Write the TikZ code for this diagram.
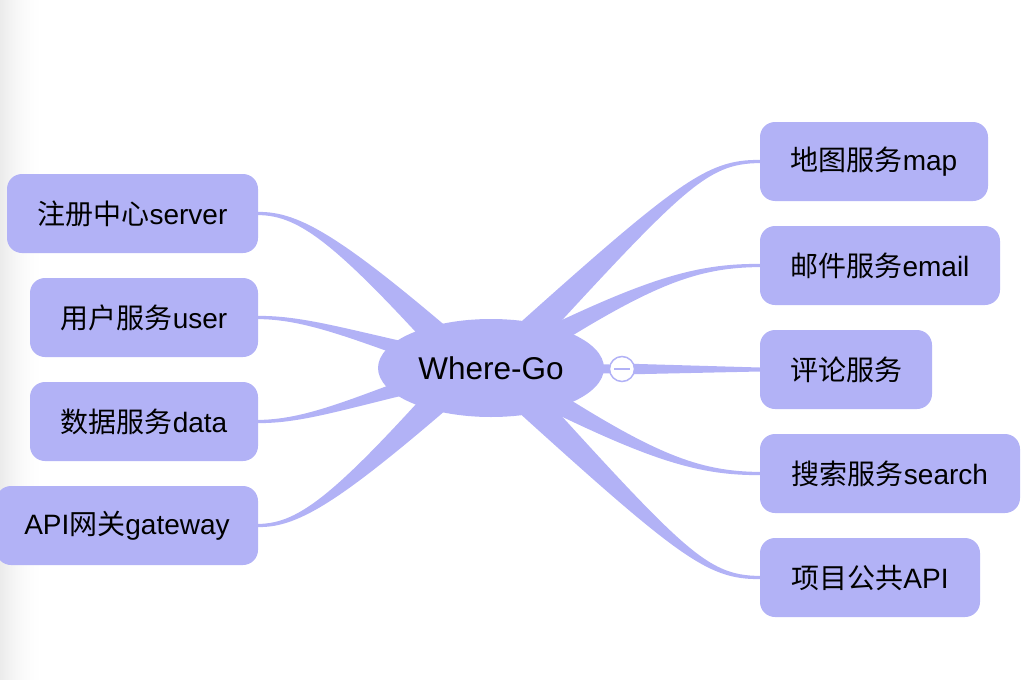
\documentclass[tikz,border=0pt]{standalone}
\usepackage{fontspec}
\setmainfont{Liberation Sans}
\newfontfamily\cjk{Noto Sans CJK SC}
\usetikzlibrary{shapes.geometric,calc,backgrounds}
\definecolor{lav}{RGB}{178,178,246}
\newcommand\mmbranch[8]{%
  \fill[lav] ($#1!#5!90:#2$) .. controls ($#2!#6!-90:#1$) and ($#3!#7!90:#4$) .. ($#4!#8!-90:#3$)
    -- ($#4!#8!90:#3$) .. controls ($#3!#7!-90:#4$) and ($#2!#6!90:#1$) .. ($#1!#5!-90:#2$) -- cycle;}
\tikzset{
  box/.style={draw=none, fill=lav, rounded corners=15pt, minimum height=79pt, inner sep=0pt,
    font=\fontsize{28}{33}\selectfont, text=black},
  topic/.style={ellipse, fill=lav, minimum width=226pt, minimum height=98pt, inner sep=0pt,
    font=\fontsize{31.5}{37}\selectfont, text=black},
  collapse/.style={circle, draw=lav, line width=1.5pt, fill=white, minimum size=25pt, inner sep=0pt}
}
\begin{document}
\begin{tikzpicture}[x=1pt,y=-1pt]
\useasboundingbox (0,0) rectangle (1022,680);
% nodes
\node[topic] (c) at (491,368) {Where-Go};
\node[collapse] (col) at (622,369) {};
\draw[lav, line width=1.5pt] ([xshift=-8pt]col.center) -- ([xshift=8pt]col.center);

\node[box, minimum width=251pt] (server) at (132.5,213.5) {{\cjk 注册中心}server};
\node[box, minimum width=228pt] (user) at (144,317.5) {{\cjk 用户服务}user};
\node[box, minimum width=228pt] (data) at (144,421.5) {{\cjk 数据服务}data};
\node[box, minimum width=262pt] (gateway) at (127,525.5) {API{\cjk 网关}gateway};

\node[box, minimum width=228pt] (map) at (874,161.5) {{\cjk 地图服务}map};
\node[box, minimum width=240pt] (email) at (880,265.5) {{\cjk 邮件服务}email};
\node[box, minimum width=172pt] (review) at (846,369.5) {{\cjk 评论服务}};
\node[box, minimum width=260pt] (search) at (890,473.5) {{\cjk 搜索服务}search};
\node[box, minimum width=220pt] (api) at (870,577.5) {{\cjk 项目公共}API};

\coordinate (sl) at (470,368);
\coordinate (sr) at (495,368);

\begin{pgfonlayer}{background}
\foreach \i in {0,...,44}{
  \pgfmathsetmacro\g{8*(1-\i/45)*(1-\i/45)}
  \fill[black!\g] (\i,0) rectangle (\i+1.05,680);
}
% right branches
\mmbranch{(sr)}{(680,185)}{(705,161.5)}{(map.west)}{17pt}{4.5pt}{2pt}{1.6pt}
\mmbranch{(sr)}{(640,285)}{(690,265.5)}{(email.west)}{14pt}{4.5pt}{2pt}{1.6pt}
\mmbranch{(sr)}{(640,452)}{(690,473.5)}{(search.west)}{14pt}{4.5pt}{2pt}{1.6pt}
\mmbranch{(sr)}{(680,553)}{(705,577.5)}{(api.west)}{17pt}{4.5pt}{2pt}{1.6pt}
% left branches
\mmbranch{(sl)}{(340,240)}{(300,213.5)}{(server.east)}{16pt}{4.5pt}{2pt}{1.6pt}
\mmbranch{(sl)}{(360,338)}{(310,317.5)}{(user.east)}{12pt}{4pt}{2pt}{1.6pt}
\mmbranch{(sl)}{(360,399)}{(310,421.5)}{(data.east)}{12pt}{4pt}{2pt}{1.6pt}
\mmbranch{(sl)}{(340,497)}{(300,525.5)}{(gateway.east)}{16pt}{4.5pt}{2pt}{1.6pt}
% neck and review branch
\fill[lav] ([yshift=8pt]c.center) -- ([yshift=4pt]col.center) -- ([yshift=-4pt]col.center) -- ([yshift=-8pt]c.center) -- cycle;
\fill[lav] ([yshift=5.5pt]col.center) -- ([yshift=2pt]review.west) -- ([yshift=-2pt]review.west) -- ([yshift=-5.5pt]col.center) -- cycle;
\end{pgfonlayer}
\end{tikzpicture}
\end{document}
